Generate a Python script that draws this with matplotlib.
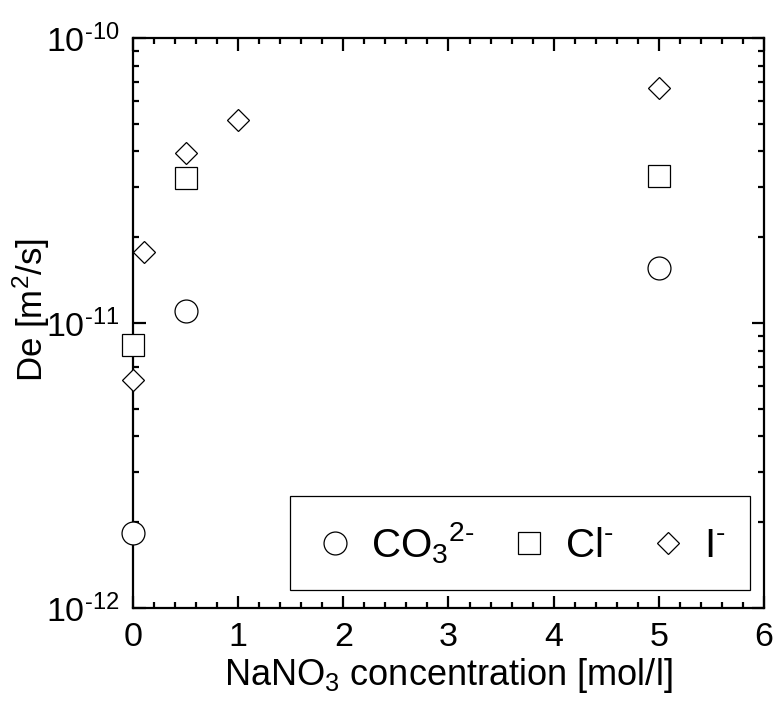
import numpy as np
import matplotlib.pyplot as plt
from matplotlib.ticker import LogLocator, MultipleLocator, FuncFormatter

## FONT SETUP (ARIAL-LIKE)
plt.rcParams['font.family'] = ['Liberation Sans', 'DejaVu Sans']
plt.rcParams['mathtext.fontset'] = 'custom'
plt.rcParams['mathtext.rm'] = 'Liberation Sans'
plt.rcParams['mathtext.it'] = 'Liberation Sans:italic'
plt.rcParams['mathtext.default'] = 'regular'

## DATA
co3_x = [0.0, 0.5, 5.0]
co3_de = [1.83e-12, 1.10e-11, 1.56e-11]

cl_x = [0.0, 0.5, 5.0]
cl_de = [8.4e-12, 3.23e-11, 3.28e-11]

i_x = [0.0, 0.1, 0.5, 1.0, 5.0]
i_de = [6.3e-12, 1.77e-11, 3.95e-11, 5.15e-11, 6.68e-11]

## FIGURE
fig = plt.figure(figsize=(7.75, 7.02), dpi=100)
ax = fig.add_axes([0.1716, 0.1339, 0.8142, 0.812])

kw = dict(linestyle='none', markerfacecolor='white', markeredgecolor='black',
          markeredgewidth=0.9, clip_on=False, zorder=3)
ax.plot(co3_x, co3_de, marker='o', markersize=16.5, label=r'CO$_3$$^{\text{2-}}$', **kw)
ax.plot(cl_x, cl_de, marker='s', markersize=16.5, label=r'Cl$^{\text{-}}$', **kw)
ax.plot(i_x, i_de, marker='D', markersize=11.7, label=r'I$^{\text{-}}$', **kw)

ax.set_yscale('log')
ax.set_xlim(0, 6)
ax.set_ylim(1e-12, 1e-10)

ax.xaxis.set_major_locator(MultipleLocator(1))
ax.xaxis.set_minor_locator(MultipleLocator(0.2))
ax.yaxis.set_major_locator(LogLocator(base=10, numticks=10))
ax.yaxis.set_minor_locator(LogLocator(base=10, subs=np.arange(2, 10), numticks=20))
ax.yaxis.set_major_formatter(FuncFormatter(
    lambda v, p: r'10$^{\text{-%d}}$' % round(-np.log10(v))))

ax.tick_params(which='both', direction='in', top=True, right=True, width=1.6)
ax.tick_params(which='major', length=9, labelsize=24.5, pad=10)
ax.tick_params(which='minor', length=4.5)
for s in ax.spines.values():
    s.set_linewidth(1.6)

ax.set_xlabel('NaNO$_3$ concentration [mol/l]', fontsize=26, labelpad=2)
ax.set_ylabel('De [m$^2$/s]', fontsize=25)
ax.yaxis.set_label_coords(-0.128, 0.523)

leg = ax.legend(loc='lower right', ncol=3, fontsize=29, frameon=True, fancybox=False,
                edgecolor='black', framealpha=1, borderpad=0.6, handletextpad=0.4,
                columnspacing=0.85, handlelength=1.0, borderaxespad=0,
                bbox_to_anchor=(0.978, 0.032))
leg.get_frame().set_linewidth(0.9)

plt.savefig('out.png', dpi=100)
